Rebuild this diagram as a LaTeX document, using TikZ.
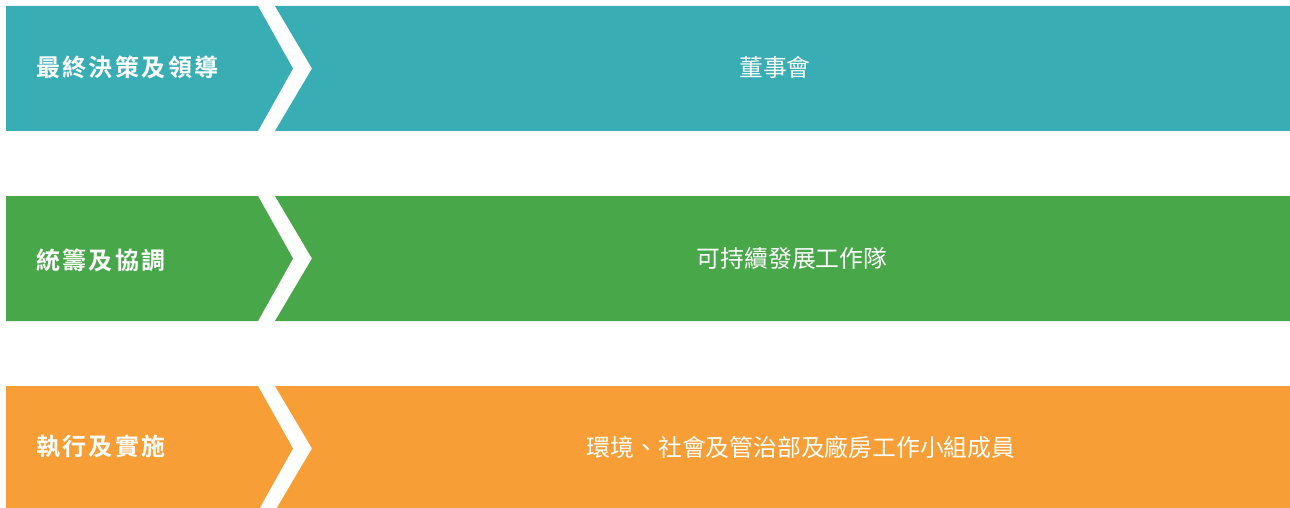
\documentclass[tikz,border=0pt]{standalone}
\usepackage{fontspec}
\newfontfamily\cjkb{Noto Sans CJK TC Bold}[LetterSpace=10]
\newfontfamily\cjkr{Noto Sans CJK TC}
\definecolor{cteal}{HTML}{38AEB4}
\definecolor{cgreen}{HTML}{48A749}
\definecolor{corange}{HTML}{F79E36}
\begin{document}
\begin{tikzpicture}[x=1pt,y=-1pt,
  lefttext/.style={anchor=west,text=white,font=\cjkb\fontsize{24}{28}\selectfont,inner sep=0pt},
  righttext/.style={anchor=center,text=white,font=\cjkr\fontsize{23.8}{28}\selectfont,inner sep=0pt}]
\useasboundingbox (0,0) rectangle (1290,508);
\clip (0,0) rectangle (1290,508);
\foreach \t/\c [count=\i] in {6/cteal,196/cgreen,386/corange}{
  \pgfmathsetmacro{\b}{\t+125}
  \pgfmathsetmacro{\m}{\t+62.5}
  \fill[\c] (6,\t) -- (258,\t) -- (293,\m) -- (258,\b) -- (6,\b) -- cycle;
  \fill[\c] (275,\t) -- (1290,\t) -- (1290,\b) -- (275,\b) -- (312,\m) -- cycle;
}
\node[lefttext] (l1) at (36,67) {最終決策及領導};
\node[lefttext] (l2) at (36,260) {統籌及協調};
\node[lefttext] (l3) at (36,446) {執行及實施};
\node[righttext] (r1) at (775,67) {董事會};
\node[righttext] (r2) at (792,258) {可持續發展工作隊};
\node[righttext] (r3) at (801,447) {環境、社會及管治部及廠房工作小組成員};
\end{tikzpicture}
\end{document}
